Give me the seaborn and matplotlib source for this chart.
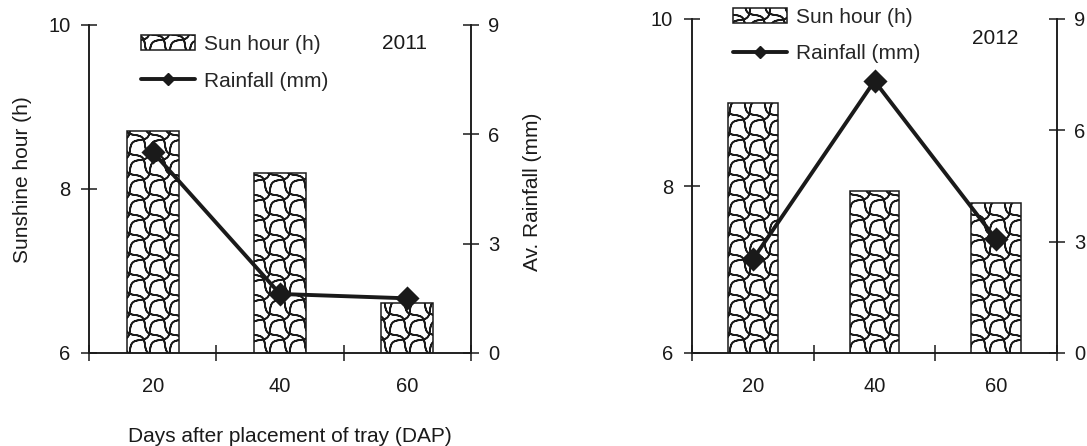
import seaborn as sns
import matplotlib.pyplot as plt
import matplotlib.hatch as mhatch
import numpy as np
from matplotlib.path import Path
from matplotlib.patches import Patch
from matplotlib.lines import Line2D

# Values
days = ['20', '40', '60']
sun_2011 = [8.71, 8.20, 6.61]
rain_2011 = [5.52, 1.62, 1.50]
sun_2012 = [9.00, 7.94, 7.80]
rain_2012 = [2.52, 7.33, 3.06]


# The original bars use a wavy "shingle" fill; matplotlib has nothing like it,
# so swap the plain 'x' hatch for a curvy cross-hatch.
class WavyCross(mhatch.HatchPatternBase):
    n_seg = 96

    def __init__(self, hatch, density):
        self.n = int(density * 5 / 6) if 'x' in hatch else 0
        # each curve is traced there and back so Agg's hatch fill stays empty
        self.per_line = 2 * (self.n_seg + 1)
        self.num_vertices = 2 * (2 * self.n + 1) * self.per_line if self.n else 0

    def set_vertices_and_codes(self, vertices, codes):
        n = self.n
        u = np.linspace(-0.1, 1.1, self.n_seg + 1)
        k = 0
        for sign in (1, -1):
            phase = 0 if sign == 1 else np.pi / 2
            wave = 0.12 / n * np.sin(2 * np.pi * n * u + phase)
            for c in np.arange(-n, n + 1) / n:
                if sign == 1:
                    xs, ys = u + wave, u + c - wave
                else:
                    xs, ys = u + wave, -u + c + 1 + wave
                xs = np.concatenate([xs, xs[::-1]])
                ys = np.concatenate([ys, ys[::-1]])
                sl = slice(k, k + self.per_line)
                vertices[sl, 0] = xs
                vertices[sl, 1] = ys
                codes[sl] = Path.LINETO
                codes[k] = Path.MOVETO
                k += self.per_line


mhatch._hatch_types = [t for t in mhatch._hatch_types
                       if t.__name__ not in ('NorthEastHatch', 'SouthEastHatch')] + [WavyCross]

sns.set_style('ticks')
plt.rcParams['font.family'] = ['Liberation Sans', 'DejaVu Sans']
plt.rcParams['hatch.linewidth'] = 1.2
plt.rcParams['hatch.color'] = 'black'

ink = '#1a1a1a'
fs = 15

fig = plt.figure(figsize=(10.87, 4.46), dpi=100)
ax_l = fig.add_axes([89 / 1087, 1 - 353 / 446, 382 / 1087, 328 / 446])
ax_r = fig.add_axes([692 / 1087, 1 - 353 / 446, 365 / 1087, 334 / 446])


def draw_panel(ax, sun, rain, year, year_pos, leg_pos):
    sns.barplot(x=days, y=sun, ax=ax, color='white', saturation=1,
                edgecolor=ink, linewidth=1.1, hatch='x', width=0.41)
    ax2 = ax.twinx()
    sns.pointplot(x=days, y=rain, ax=ax2, color=ink, errorbar=None,
                  marker='D', markersize=10, linewidth=2.8)

    ax.set_ylim(6, 10)
    ax.set_yticks([6, 8, 10])
    ax2.set_ylim(0, 9)
    ax2.set_yticks([0, 3, 6, 9])

    # ticks between categories, labels at the centres
    ax.set_xlim(-0.5, 2.5)
    ax.set_xticks([-0.5, 0.5, 1.5, 2.5])
    ax.set_xticklabels([])
    ax.set_xticks([0, 1, 2], minor=True)
    ax.set_xticklabels(days, minor=True)
    ax.tick_params(axis='x', which='major', direction='inout', length=11,
                   width=1.1, color=ink)
    ax.tick_params(axis='x', which='minor', length=0, pad=17,
                   labelsize=14.5, labelcolor=ink)
    ax.tick_params(axis='y', direction='inout', length=11, width=1.1,
                   pad=8, labelsize=14.5, color=ink, labelcolor=ink)
    ax2.tick_params(axis='y', direction='inout', length=11, width=1.1,
                    pad=7, labelsize=14.5, color=ink, labelcolor=ink)

    for a in (ax, ax2):
        a.spines['top'].set_visible(False)
        for s in a.spines.values():
            s.set_linewidth(1.1)
            s.set_color(ink)
    ax.set_xlabel('')
    ax.set_ylabel('')
    ax2.set_ylabel('')

    handles = [
        Patch(facecolor='white', edgecolor=ink, hatch='x', linewidth=1.1),
        Line2D([], [], color=ink, marker='D', markersize=10, linewidth=2.8),
    ]
    ax.legend(handles, ['Sun hour (h)', 'Rainfall (mm)'], loc='upper left',
              bbox_to_anchor=leg_pos, frameon=False, fontsize=fs,
              borderpad=0, borderaxespad=0, handlelength=2.6,
              handletextpad=0.45, labelspacing=0.85, markerscale=0.65)
    ax.text(year_pos[0], year_pos[1], year, transform=ax.transAxes,
            ha='center', va='center', fontsize=fs, color=ink)
    return ax2


ax2_l = draw_panel(ax_l, sun_2011, rain_2011, '2011', (0.827, 0.945), (0.136, 0.970))
ax2_r = draw_panel(ax_r, sun_2012, rain_2012, '2012', (0.830, 0.943), (0.112, 1.034))

ax_l.set_ylabel('Sunshine hour (h)', fontsize=fs, color=ink, va='center')
ax_l.yaxis.set_label_coords(-0.173, 0.53)
ax2_l.set_ylabel('Av. Rainfall (mm)', fontsize=fs, color=ink, va='center', rotation=90)
ax2_l.yaxis.set_label_coords(1.16, 0.491)
ax_l.set_xlabel('Days after placement of tray (DAP)', fontsize=fs, color=ink, va='center')
ax_l.xaxis.set_label_coords(0.526, -0.256)

plt.savefig('out.png', dpi=100, facecolor='white')
plt.close()
